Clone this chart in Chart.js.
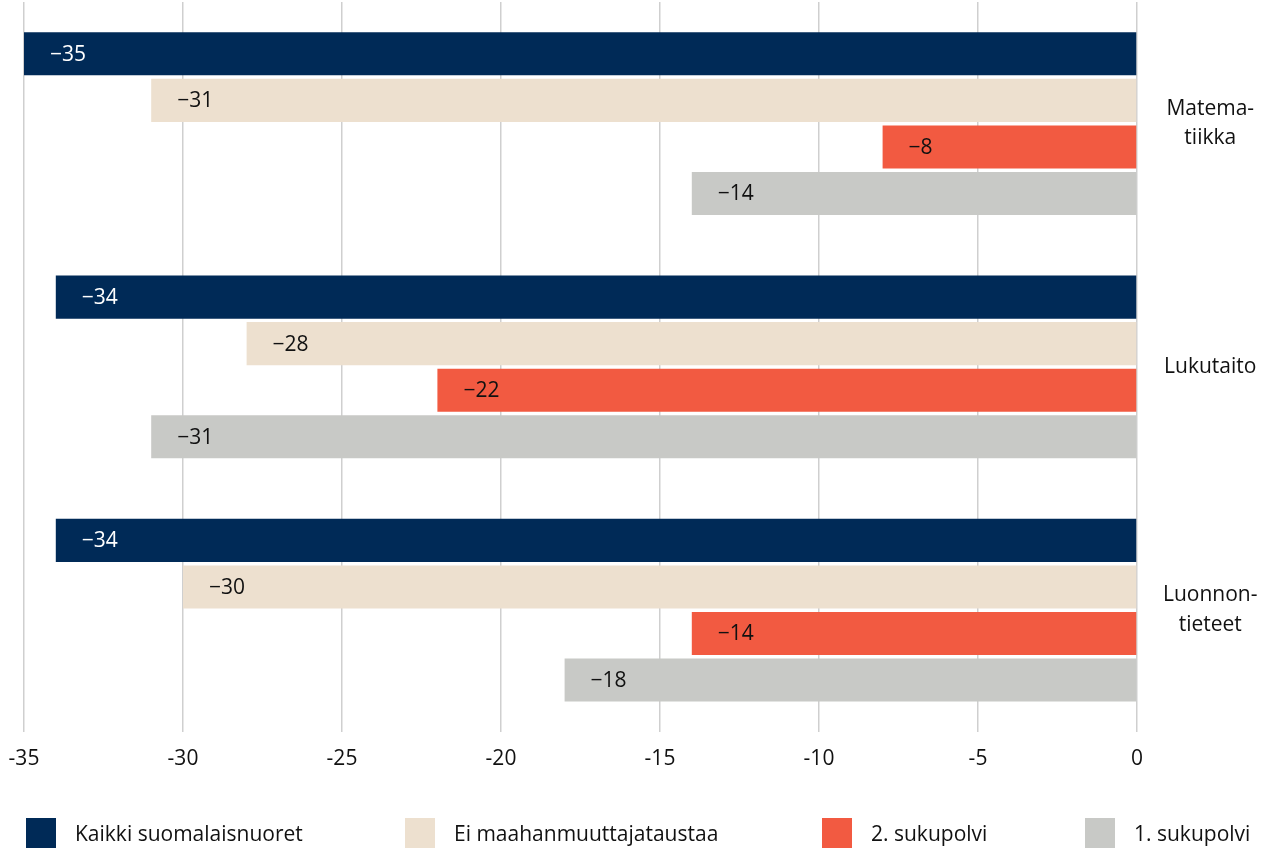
<!DOCTYPE html>
<html>
<head>
<meta charset="utf-8">
<script src="https://cdn.jsdelivr.net/npm/chart.js@4"></script>
<style>
  html, body { margin: 0; padding: 0; background: #fff; }
  #wrap { position: relative; width: 1266px; height: 848px; }
  #legend { position: absolute; left: 0; top: 818px; width: 1266px; height: 30px; font-family: "Open Sans", sans-serif; font-size: 21px; color: #111; }
  .item { position: absolute; top: 0; display: flex; align-items: center; height: 30px; white-space: nowrap; }
  .box { width: 30px; height: 30px; margin-right: 19px; }
</style>
</head>
<body>
<div id="wrap">
  <canvas id="myChart" width="1266" height="848"></canvas>
  <div id="legend"></div>
</div>
<script>
// --- DATA ---
const categories = [['Matema-', 'tiikka'], ['Lukutaito'], ['Luonnon-', 'tieteet']];
const seriesNames = ['Kaikki suomalaisnuoret', 'Ei maahanmuuttajataustaa', '2. sukupolvi', '1. sukupolvi'];
const kaikki = [-35, -34, -34];
const eiTaustaa = [-31, -28, -30];
const toinenPolvi = [-8, -22, -14];
const ensimmainenPolvi = [-14, -31, -18];
const xTicks = [-35, -30, -25, -20, -15, -10, -5, 0];

const colors = ['#002a57', '#ede0cf', '#f25a41', '#c8c9c6'];
const labelColors = ['#ffffff', '#111111', '#111111', '#111111'];
const legendX = [26, 405, 822, 1085];
const FONT = '"Open Sans", sans-serif';

// Arvot palkin sisään, vasempaan päähän
const barLabels = {
    id: 'barLabels',
    afterDatasetsDraw(chart) {
        const c = chart.ctx;
        c.save();
        c.font = '21px ' + FONT;
        c.textBaseline = 'middle';
        c.textAlign = 'left';
        chart.data.datasets.forEach((ds, i) => {
            chart.getDatasetMeta(i).data.forEach((bar, j) => {
                c.fillStyle = labelColors[i];
                c.fillText('\u2212' + Math.abs(ds.data[j]), bar.x + 26, bar.y + 1);
            });
        });
        c.restore();
    }
};

const ctx = document.getElementById('myChart').getContext('2d');
const chart = new Chart(ctx, {
    type: 'bar',
    data: {
        labels: categories,
        datasets: [kaikki, eiTaustaa, toinenPolvi, ensimmainenPolvi].map((d, i) => ({
            label: seriesNames[i],
            data: d,
            backgroundColor: colors[i],
            borderWidth: 0,
            categoryPercentage: 0.765,
            barPercentage: 0.925
        }))
    },
    options: {
        indexAxis: 'y',
        responsive: false,
        animation: false,
        layout: { padding: { left: 24, top: 2, bottom: 61, right: 0 } },
        plugins: { legend: { display: false }, tooltip: { enabled: false } },
        scales: {
            x: {
                min: -35, max: 0,
                afterBuildTicks: axis => { axis.ticks = xTicks.map(v => ({ value: v })); },
                afterFit: axis => { axis.paddingLeft = 0; axis.paddingRight = 0; },
                grid: { color: '#cfcfcf', lineWidth: 1.5, drawTicks: false },
                border: { display: false },
                ticks: { color: '#111', font: { family: FONT, size: 21 }, padding: 15, maxRotation: 0 }
            },
            y: {
                position: 'right',
                grid: { display: false, drawTicks: false },
                border: { display: false },
                afterFit: axis => { axis.width = 129; axis.paddingTop = 0; axis.paddingBottom = 0; },
                ticks: {
                    color: '#111', font: { family: FONT, size: 21, lineHeight: 1.4 }, padding: 26,
                    align: 'center', crossAlign: 'center'
                }
            }
        }
    },
    plugins: [barLabels]
});

// --- LEGEND ---
const legend = document.getElementById('legend');
seriesNames.forEach((name, i) => {
    legend.innerHTML += `<div class="item" style="left:${legendX[i]}px"><div class="box" style="background:${colors[i]}"></div>${name}</div>`;
});
</script>
</body>
</html>
